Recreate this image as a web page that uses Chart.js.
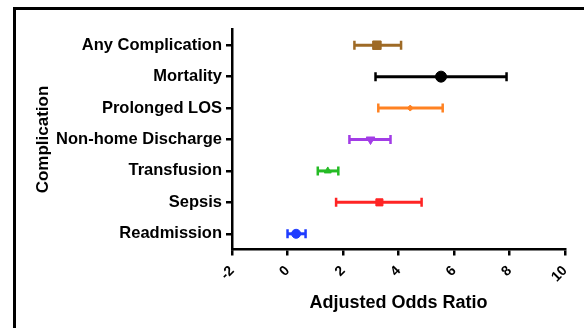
<!DOCTYPE html>
<html>
<head>
<meta charset="utf-8">
<script src="https://cdn.jsdelivr.net/npm/chart.js@4"></script>
<style>
  html, body { margin: 0; padding: 0; background: #fff; }
  #wrap { position: relative; width: 584px; height: 328px; overflow: hidden; }
  #frame { position: absolute; left: 13px; top: 7px; width: 600px; height: 400px;
           border-left: 3px solid #000; border-top: 3px solid #000; }
  canvas { position: absolute; left: 0; top: 0; }
</style>
</head>
<body>
<div id="wrap">
  <div id="frame"></div>
  <canvas id="forestChart" width="584" height="328"></canvas>
</div>
<script>
// complications, top to bottom
const categories = ['Any Complication', 'Mortality', 'Prolonged LOS', 'Non-home Discharge',
  'Transfusion', 'Sepsis', 'Readmission'];
const oddsRatio = [3.22, 5.53, 4.42, 2.99, 1.45, 3.31, 0.31];
const ciLow = [2.41, 3.17, 3.27, 2.23, 1.09, 1.75, 0.0];
const ciHigh = [4.09, 7.89, 5.59, 3.71, 1.83, 4.83, 0.65];
const xTicks = [-2, 0, 2, 4, 6, 8, 10];

const colors = ['#9e6a26', '#000000', '#ff8222', '#a23ce6', '#25bb25', '#ff2424', '#1f3cff'];
const markers = ['rect', 'circle', 'rectRot', 'triangle', 'triangle', 'rect', 'circle'];
const markerSize = [6, 5.5, 3, 5, 4, 5, 4.5];
const markerRotation = [0, 0, 0, 180, 0, 0, 0];

const errorBars = {
  id: 'errorBars',
  beforeDatasetsDraw(chart) {
    const ctx = chart.ctx;
    const xs = chart.scales.x;
    const ys = chart.scales.y;
    ctx.save();
    ctx.lineCap = 'butt';
    categories.forEach((c, i) => {
      const y = ys.getPixelForValue(i);
      const x1 = xs.getPixelForValue(ciLow[i]);
      const x2 = xs.getPixelForValue(ciHigh[i]);
      ctx.strokeStyle = colors[i];
      ctx.lineWidth = 3;
      ctx.beginPath();
      ctx.moveTo(x1, y);
      ctx.lineTo(x2, y);
      ctx.stroke();
      ctx.lineWidth = 2.5;
      ctx.beginPath();
      ctx.moveTo(x1, y - 4.5);
      ctx.lineTo(x1, y + 4.5);
      ctx.moveTo(x2, y - 4.5);
      ctx.lineTo(x2, y + 4.5);
      ctx.stroke();
    });
    ctx.restore();
  }
};

const chartCanvas = document.querySelector('#forestChart');

new Chart(chartCanvas, {
  type: 'scatter',
  data: {
    datasets: [{
      label: 'Adjusted Odds Ratio',
      data: oddsRatio.map((v, i) => ({ x: v, y: categories[i] })),
      backgroundColor: colors,
      borderColor: colors,
      pointStyle: markers,
      pointRadius: markerSize,
      pointRotation: markerRotation,
      borderWidth: 1
    }]
  },
  options: {
    responsive: false,
    animation: false,
    layout: { padding: { top: 29.5, right: 18, left: 0, bottom: 0 } },
    plugins: {
      legend: { display: false },
      tooltip: { enabled: false }
    },
    scales: {
      x: {
        type: 'linear',
        min: -2,
        max: 10,
        afterBuildTicks: (scale) => { scale.ticks = xTicks.map(v => ({ value: v })); },
        afterFit: (scale) => { scale.height = 78.5; },
        grid: { drawOnChartArea: false, drawTicks: true, tickLength: 6, color: '#000', lineWidth: 2.5 },
        border: { color: '#000', width: 2.5 },
        ticks: {
          minRotation: 45,
          maxRotation: 45,
          padding: 7,
          color: '#000',
          font: { family: 'Liberation Sans', size: 14, weight: 'bold' }
        },
        title: {
          display: true,
          text: 'Adjusted Odds Ratio',
          color: '#000',
          padding: { top: 0, bottom: 14 },
          font: { family: 'Liberation Sans', size: 18, weight: 'bold' }
        }
      },
      y: {
        type: 'category',
        labels: categories,
        offset: true,
        afterFit: (scale) => { scale.width = 232; },
        grid: { offset: false, drawOnChartArea: false, drawTicks: true, tickLength: 6, color: '#000', lineWidth: 2.5 },
        border: { color: '#000', width: 2.5 },
        ticks: {
          padding: 4,
          color: '#000',
          font: { family: 'Liberation Sans', size: 16.5, weight: 'bold' }
        },
        title: {
          display: true,
          text: 'Complication',
          color: '#000',
          padding: { top: 33, bottom: 0 },
          font: { family: 'Liberation Sans', size: 17, weight: 'bold' }
        }
      }
    }
  },
  plugins: [errorBars]
});
</script>
</body>
</html>
